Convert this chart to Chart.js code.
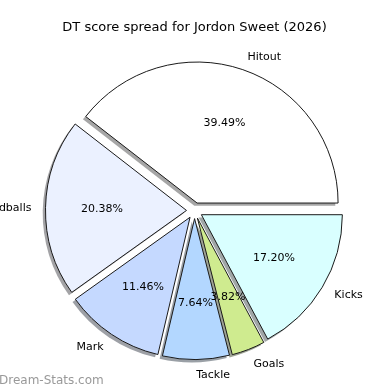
<!DOCTYPE html>
<html>
<head>
<meta charset="utf-8">
<script src="https://cdn.jsdelivr.net/npm/chart.js@4"></script>
<style>
html, body { margin: 0; padding: 0; background: #fff; }
#wrap { width: 390px; height: 390px; }
</style>
</head>
<body>
<div id="wrap"><canvas id="spread"></canvas></div>
<script>
// DT points per stat (matplotlib order, counter-clockwise from 3 o'clock)
const categories = ['Hitout', 'Handballs', 'Mark', 'Tackle', 'Goals', 'Kicks'];
const points = [62, 32, 18, 12, 6, 27];
const sliceColors = ['#ffffff', '#ebf1ff', '#c5d9ff', '#b3d7ff', '#cfeb8f', '#d9ffff'];

const explodePx = 8;
const shadowShift = 2.8;
const fontFamily = '"DejaVu Sans", sans-serif';

// chart.js goes clockwise, so feed it reversed
const labels = categories.slice().reverse();
const values = points.slice().reverse();
const colors = sliceColors.slice().reverse();
const total = points.reduce((a, b) => a + b, 0);

function shade(hex) {
    const n = parseInt(hex.slice(1), 16);
    const r = Math.round(((n >> 16) & 255) * 0.3);
    const g = Math.round(((n >> 8) & 255) * 0.3);
    const b = Math.round((n & 255) * 0.3);
    return 'rgba(' + r + ',' + g + ',' + b + ',0.5)';
}

function midAngle(arc) {
    return (arc.startAngle + arc.endAngle) / 2;
}

const explodedPie = {
    id: 'explodedPie',
    beforeDatasetDraw(chart, args) {
        const ctx = chart.ctx;
        const arcs = args.meta.data;
        // shadows go under every wedge
        arcs.forEach((arc, i) => {
            const a = midAngle(arc);
            const x = arc.x + Math.cos(a) * explodePx - shadowShift;
            const y = arc.y + Math.sin(a) * explodePx + shadowShift;
            ctx.save();
            ctx.beginPath();
            ctx.moveTo(x, y);
            ctx.arc(x, y, arc.outerRadius, arc.startAngle, arc.endAngle);
            ctx.closePath();
            ctx.fillStyle = shade(colors[i]);
            ctx.fill();
            ctx.restore();
        });
        arcs.forEach(arc => {
            const a = midAngle(arc);
            ctx.save();
            ctx.translate(Math.cos(a) * explodePx, Math.sin(a) * explodePx);
            arc.draw(ctx, chart.chartArea);
            ctx.restore();
        });
        return false;
    },
    afterDatasetsDraw(chart) {
        const ctx = chart.ctx;
        const arcs = chart.getDatasetMeta(0).data;
        ctx.save();
        ctx.font = '11px ' + fontFamily;
        ctx.fillStyle = '#000';
        ctx.textBaseline = 'middle';
        arcs.forEach((arc, i) => {
            const a = midAngle(arc);
            const cx = arc.x + Math.cos(a) * explodePx;
            const cy = arc.y + Math.sin(a) * explodePx;
            const r = arc.outerRadius;
            // category label at 1.1 r
            const lx = cx + Math.cos(a) * r * 1.1;
            const ly = cy + Math.sin(a) * r * 1.1 + 1;
            ctx.textAlign = Math.cos(a) >= 0 ? 'left' : 'right';
            ctx.fillText(labels[i], lx, ly);
            // percentage at 0.6 r
            ctx.textAlign = 'center';
            const pct = (values[i] / total * 100).toFixed(2) + '%';
            ctx.fillText(pct, cx + Math.cos(a) * r * 0.6, cy + Math.sin(a) * r * 0.6);
        });
        ctx.restore();
    },
    afterDraw(chart) {
        const ctx = chart.ctx;
        ctx.save();
        ctx.font = '12px ' + fontFamily;
        ctx.fillStyle = 'rgba(128,128,128,0.8)';
        ctx.textAlign = 'left';
        ctx.textBaseline = 'alphabetic';
        ctx.fillText('Dream-Stats.com', -1, 384);
        ctx.restore();
    }
};

const spread = document.getElementById('spread');
if (spread) {
    new Chart(spread, {
        type: 'pie',
        data: {
            labels: labels,
            datasets: [{
                data: values,
                backgroundColor: colors,
                borderColor: '#1a1a1a',
                borderWidth: 1,
                borderJoinStyle: 'miter'
            }]
        },
        options: {
            responsive: true,
            maintainAspectRatio: false,
            animation: false,
            events: [],
            rotation: 90,
            radius: 141,
            layout: {
                padding: { top: 0, left: 0, right: 1, bottom: 4.4 }
            },
            plugins: {
                legend: { display: false },
                tooltip: { enabled: false },
                title: {
                    display: true,
                    text: 'DT score spread for Jordon Sweet (2026)',
                    color: '#000',
                    font: { family: fontFamily, size: 13, weight: 'normal' },
                    padding: { top: 20, bottom: 0 }
                }
            }
        },
        plugins: [explodedPie]
    });
}
</script>
</body>
</html>
